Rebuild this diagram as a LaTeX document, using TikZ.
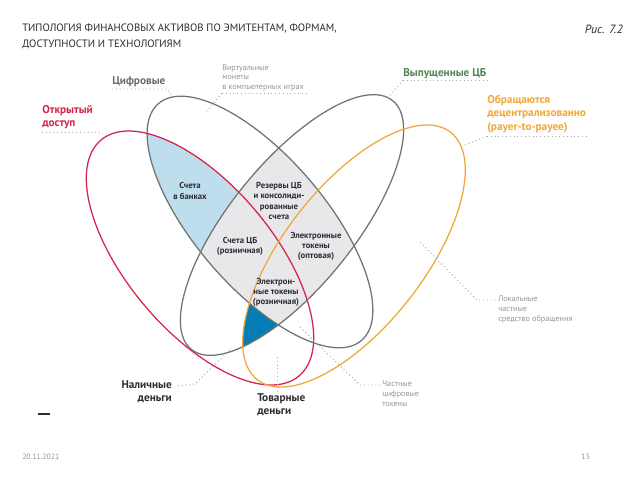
\documentclass[tikz,border=0pt]{standalone}
\usepackage{fontspec}
\setmainfont{PT Sans}
\usetikzlibrary{positioning}

\definecolor{openred}{RGB}{214,36,76}
\definecolor{decorange}{RGB}{240,168,58}
\definecolor{rimgray}{RGB}{112,116,116}
\definecolor{cbgreen}{RGB}{82,132,84}
\definecolor{taggray}{RGB}{108,108,108}
\definecolor{inkdark}{RGB}{45,45,50}
\definecolor{notegray}{RGB}{150,150,150}
\definecolor{leadgray}{RGB}{168,172,172}
\definecolor{bankblue}{RGB}{190,222,238}
\definecolor{cbfill}{RGB}{232,232,235}
\definecolor{deepblue}{RGB}{8,124,180}

\begin{document}
\begin{tikzpicture}[x=0.025cm, y=-0.025cm,
    every node/.style={inner sep=0pt, align=left},
    rim/.style={line width=0.9pt},
    leader/.style={draw=leadgray, line width=0.7pt, dotted},
    tag/.style={font=\bfseries\fontsize{8}{9.6}\selectfont},
    cell/.style={font=\bfseries\fontsize{6.2}{7.2}\selectfont, text=inkdark, align=center},
    note/.style={font=\fontsize{5.8}{6.9}\selectfont, text=notegray}
]
    \useasboundingbox[fill=white] (0,0) rectangle (640,480);

    % filled regions
    \begin{scope}
        \clip[rotate around={51:(292,225)}] (292,225) ellipse [x radius=160, y radius=62];
        \clip[rotate around={52:(354,256)}] (354,256) ellipse [x radius=157, y radius=70];
        \clip[rotate around={-50:(200,258)}] (200,258) ellipse [x radius=154, y radius=73];
        \fill[deepblue] (0,0) rectangle (640,480);
    \end{scope}
    \begin{scope}
        \clip (106,458) -- (484,-8) -- (-10,-8) -- (-10,458) -- cycle;
        \clip[rotate around={-49.4:(260,222)}] (260,222) ellipse [x radius=156, y radius=65];
        \clip[rotate around={-50:(200,258)}] (200,258) ellipse [x radius=154, y radius=73];
        \fill[bankblue] (0,0) rectangle (640,480);
    \end{scope}
    \begin{scope}
        \clip[rotate around={-49.4:(260,222)}] (260,222) ellipse [x radius=156, y radius=65];
        \clip[rotate around={51:(292,225)}] (292,225) ellipse [x radius=160, y radius=62];
        \fill[cbfill] (0,0) rectangle (640,480);
    \end{scope}

    % the four sets
    \draw[rim, openred, rotate around={-50:(200,258)}] (200,258) ellipse [x radius=154, y radius=73];
    \draw[rim, rimgray, rotate around={-49.4:(260,222)}] (260,222) ellipse [x radius=156, y radius=65];
    \draw[rim, rimgray, rotate around={51:(292,225)}] (292,225) ellipse [x radius=160, y radius=62];
    \draw[rim, decorange, rotate around={52:(354,256)}] (354,256) ellipse [x radius=157, y radius=70];

    % heading
    \node[anchor=north west, text=inkdark, font=\fontsize{7.6}{10.8}\selectfont] (title) at (22,24)
        {ТИПОЛОГИЯ ФИНАНСОВЫХ АКТИВОВ ПО ЭМИТЕНТАМ, ФОРМАМ,\\ДОСТУПНОСТИ И ТЕХНОЛОГИЯМ};
    \node[anchor=north east, text=inkdark, font=\itshape\fontsize{8.5}{10}\selectfont] (fig) at (623,25) {Рис. 7.2};

    % set names
    \node[tag, text=taggray, anchor=base west] (digital) at (112,85) {Цифровые};
    \node[tag, text=openred, anchor=north west] (open) at (42,105) {Открытый\\доступ};
    \node[tag, text=cbgreen, anchor=base west] (issued) at (403,76) {Выпущенные ЦБ};
    \node[tag, text=decorange, anchor=north west] (decent) at (487,95)
        {Обращаются\\децентрализованно\\(payer-to-payee)};

    % regions
    \node[cell] (banks) at (190,191) {Счета\\в банках};
    \node[cell] (reserves) at (279,201) {Резервы ЦБ\\и консолиди-\\рованные\\счета};
    \node[cell] (cbretail) at (240,246) {Счета ЦБ\\(розничная)};
    \node[cell] (wholesale) at (316,246) {Электронные\\токены\\(оптовая)};
    \node[cell] (tokretail) at (276,292) {Электрон-\\ные токены\\(розничная)};

    % outside notes
    \node[note, anchor=north west] (virtual) at (222,64) {Виртуальные\\монеты\\в компьютерных играх};
    \node[note, anchor=north west] (local) at (498,296) {Локальные\\частные\\средство обращения};
    \node[note, anchor=north west] (private) at (382,381) {Частные\\цифровые\\токены};
    \node[tag, text=inkdark, anchor=north east, align=right] (cash) at (172,380) {Наличные\\деньги};
    \node[tag, text=inkdark, anchor=north west] (goods) at (257,393) {Товарные\\деньги};

    % leader ends
    \coordinate (digtip) at (173,97);
    \coordinate (virttip) at (205,113);
    \coordinate (opentip) at (103,134);
    \coordinate (issuedtip) at (388,98);
    \coordinate (decenttip) at (465,145);
    \coordinate (cashtip) at (232,348);
    \coordinate (goodstip) at (277,357);
    \coordinate (privtip) at (300,327);
    \coordinate (localtip) at (420,242);

    \draw[leader] ([shift={(0,4)}]digital.base west) -- ++(55,0) -- (digtip);
    \draw[leader] ([shift={(0,2)}]virtual.south west) -- ++(86,0);
    \draw[leader] ([shift={(0,2)}]virtual.south west) -- (virttip);
    \draw[leader] ([shift={(0,3)}]open.south west) -- ++(56,0) -- (opentip);
    \draw[leader] ([shift={(0,4)}]issued.base west) -- ++(87,0);
    \draw[leader] ([shift={(0,4)}]issued.base west) -- (issuedtip);
    \draw[leader] ([shift={(0,3)}]decent.south west) -- ++(101,0);
    \draw[leader] ([shift={(0,3)}]decent.south west) -- (decenttip);
    \draw[leader] ([shift={(6,6)}]cash.north east) -- ++(17,-2) -- (cashtip);
    \draw[leader] (goodstip) -- (goodstip |- goods.north);
    \draw[leader] (privtip) -- ++(60,58) -- ([shift={(-2,4)}]private.north west);
    \draw[leader] (localtip) -- ++(57,58) -- ([shift={(-2,4)}]local.north west);

    % footer
    \draw[inkdark, line width=0.8pt] (38,414) -- (50,414);
    \node[note, anchor=west, font=\fontsize{5.5}{6.5}\selectfont] (date) at (22,457) {20.11.2021};
    \node[note, anchor=east, font=\fontsize{5.5}{6.5}\selectfont] (page) at (590,457) {13};
\end{tikzpicture}
\end{document}
